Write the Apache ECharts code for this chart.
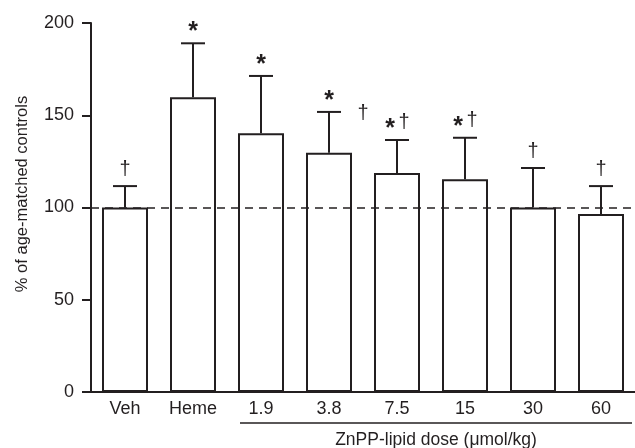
<!DOCTYPE html>
<html>
<head>
<meta charset="utf-8">
<script src="https://cdn.jsdelivr.net/npm/echarts@6/dist/echarts.min.js"></script>
<style>
  html, body { margin: 0; padding: 0; background: #fff; }
  #chart1 { width: 635px; height: 448px; }
</style>
</head>
<body>
<div id="chart1"></div>
<script>
// groups on the x axis
const categories = ['Veh', 'Heme', '1.9', '3.8', '7.5', '15', '30', '60'];
// mean % of age-matched controls
const means = [100, 159.7, 140.3, 129.7, 118.7, 115.3, 100, 96.5];
// top of the error bar (mean + SD)
const errTops = [111.6, 189, 171.3, 151.8, 136.6, 137.8, 121.4, 111.6];
// significance marks above each bar
const stars = [false, true, true, true, true, true, false, false];
const daggers = [true, false, false, false, true, true, true, true];
// dagger written beside the bar instead of above it
const sideDaggers = [false, false, false, true, false, false, false, false];
const yTicks = [0, 50, 100, 150, 200];
const refLevel = 100;

const font = 'Liberation Sans, Arial, sans-serif';
const ink = '#231f20';

let myChart = echarts.init(document.getElementById('chart1'));

const errData = categories.map(function (c, i) {
    return [i, means[i], errTops[i], stars[i] ? 1 : 0, daggers[i] ? 1 : 0, sideDaggers[i] ? 1 : 0];
});

function renderErr(params, api) {
    const i = api.value(0);
    const base = api.coord([i, api.value(1)]);
    const top = api.coord([i, api.value(2)]);
    const hasStar = api.value(3), hasDag = api.value(4), sideDag = api.value(5);
    const x = top[0];
    const kids = [
        { type: 'line', shape: { x1: x, y1: base[1], x2: x, y2: top[1] }, style: { stroke: ink, lineWidth: 2 } },
        { type: 'line', shape: { x1: x - 12, y1: top[1], x2: x + 12, y2: top[1] }, style: { stroke: ink, lineWidth: 2 } }
    ];
    const ty = top[1] - 17;
    if (hasStar) {
        kids.push({ type: 'text', style: { text: '*', x: hasDag ? x - 7 : x, y: ty + 6, align: 'center', verticalAlign: 'middle', font: 'bold 25px ' + font, fill: ink } });
    }
    if (hasDag) {
        kids.push({ type: 'text', style: { text: '\u2020', x: hasStar ? x + 7 : x, y: ty, align: 'center', verticalAlign: 'middle', font: '20px ' + font, fill: ink } });
    }
    if (sideDag) {
        kids.push({ type: 'text', style: { text: '\u2020', x: x + 34, y: top[1] + 2, align: 'center', verticalAlign: 'middle', font: '20px ' + font, fill: ink } });
    }
    return { type: 'group', children: kids };
}

const option = {
    animation: false,
    grid: { left: 91, right: -10, top: 23, bottom: 56 },
    xAxis: {
        type: 'category',
        data: categories,
        axisLine: { lineStyle: { color: ink, width: 2 } },
        axisTick: { show: false },
        axisLabel: { color: ink, fontSize: 18, fontFamily: font, margin: 8 }
    },
    yAxis: {
        type: 'value',
        min: 0,
        max: 200,
        interval: 50,
        splitLine: { show: false },
        axisLine: { show: true, lineStyle: { color: ink, width: 2 } },
        axisTick: { show: true, length: 9, lineStyle: { color: ink, width: 2 } },
        axisLabel: {
            color: ink, fontSize: 18, fontFamily: font, margin: 17,
            formatter: function (v) { return yTicks.indexOf(v) >= 0 ? String(v) : ''; }
        }
    },
    graphic: [
        { type: 'text', x: 22, y: 194, rotation: Math.PI / 2,
          style: { text: '% of age-matched controls', align: 'center', verticalAlign: 'middle', font: '16.5px ' + font, fill: ink } },
        { type: 'line', shape: { x1: 240, y1: 423, x2: 632, y2: 423 }, style: { stroke: ink, lineWidth: 1.5 } },
        { type: 'text', x: 436, y: 440,
          style: { text: 'ZnPP-lipid dose (\u03bcmol/kg)', align: 'center', verticalAlign: 'middle', font: '17.5px ' + font, fill: ink } }
    ],
    series: [
        {
            type: 'bar',
            data: means,
            barWidth: 46,
            itemStyle: { color: '#fff', borderColor: ink, borderWidth: 2 },
            markLine: {
                silent: true,
                symbol: 'none',
                label: { show: false },
                lineStyle: { color: ink, type: [8, 6], width: 1.6 },
                data: [{ yAxis: refLevel }]
            }
        },
        {
            type: 'custom',
            renderItem: renderErr,
            data: errData,
            z: 3
        }
    ]
};
myChart.setOption(option);
</script>
</body>
</html>
